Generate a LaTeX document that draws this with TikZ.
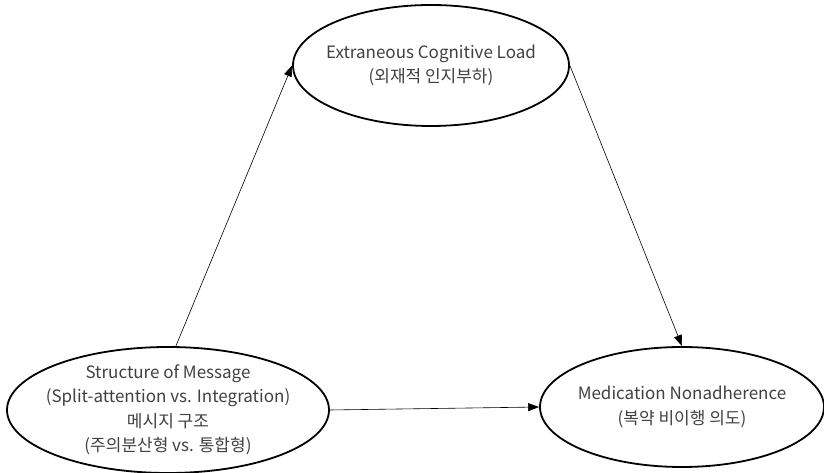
\documentclass[tikz,border=0pt]{standalone}
\usepackage{fontspec}
\setmainfont{Noto Sans CJK KR}
\usetikzlibrary{shapes.geometric,arrows.meta}
\begin{document}
\begin{tikzpicture}[x=1pt,y=1pt,
  oval/.style={draw=black,line width=1.8pt,ellipse,inner sep=-40pt,text=black!75,font=\fontsize{17}{24.5}\selectfont,align=center},
  link/.style={line width=0.6pt,-{Triangle[length=11pt,width=8pt]}}]
\useasboundingbox (0,0) rectangle (824,473);
\node[oval,minimum width=276pt,minimum height=121pt] (ecl) at (431,407.5) {Extraneous Cognitive Load\\(외재적 인지부하)};
\node[oval,minimum width=322pt,minimum height=126pt] (msg) at (168,63) {Structure of Message\\(Split-attention vs. Integration)\\메시지 구조\\(주의분산형 vs. 통합형)};
\node[oval,minimum width=284pt,minimum height=120pt] (med) at (682,66) {Medication Nonadherence\\(복약 비이행 의도)};
\draw[link] (msg.83) -- (ecl.west);
\draw[link] (ecl.east) -- (med.north);
\draw[link] (msg.east) -- (med.west);
\end{tikzpicture}
\end{document}
